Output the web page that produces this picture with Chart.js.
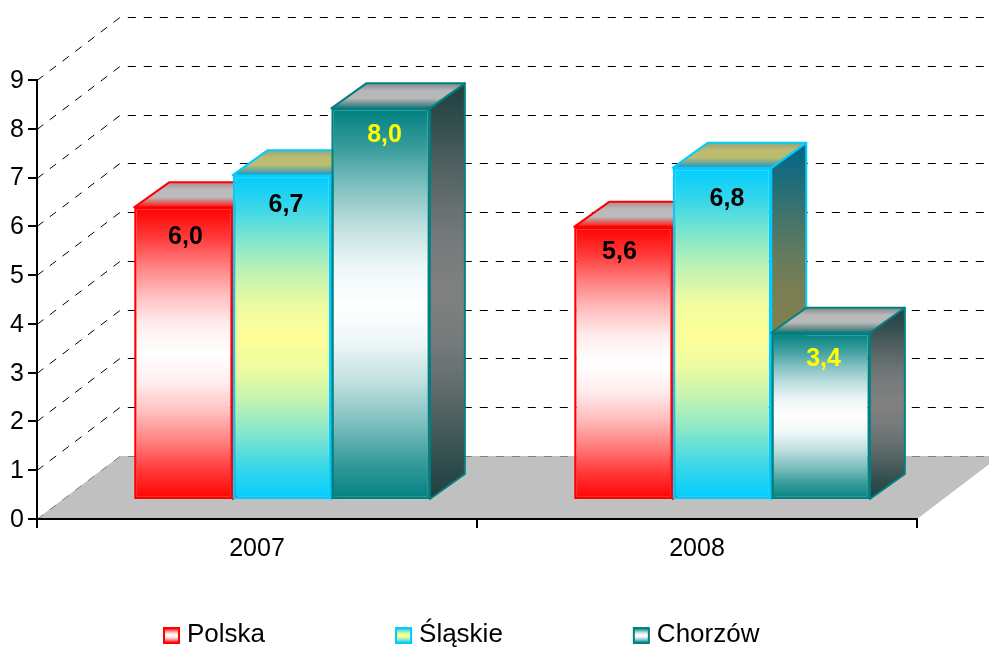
<!DOCTYPE html>
<html>
<head>
<meta charset="utf-8">
<style>
  html, body { margin: 0; background: #fff; }
  canvas { display: block; }
</style>
<script src="https://cdn.jsdelivr.net/npm/chart.js@4"></script>
</head>
<body>
<canvas id="chart" width="989" height="648"></canvas>
<script>
// Data
const categories = ["2007", "2008"];
const seriesNames = ["Polska", "Śląskie", "Chorzów"];
const polska = [6.0, 5.6];
const slaskie = [6.66, 6.81];
const chorzow = [8.03, 3.43];
const yTicks = [0, 1, 2, 3, 4, 5, 6, 7, 8, 9];

// Colours per series: bar edge, bar middle, then the darker side and top faces
const edgeColors = ["#ff0000", "#00ccff", "#008080"];
const midColors = ["#ffffff", "#ffff99", "#ffffff"];
const sideEdge = ["#800000", "#006688", "#1f4040"];
const sideMid = ["#808080", "#808050", "#808080"];
const topEdge = ["#ff1010", "#1f94c0", "#2a7070"];
const topBack = ["#b08a8a", "#98a080", "#808888"];
const topMid = ["#bbbbbb", "#bcbc70", "#b8b8b8"];
const labelColors = ["#000000", "#000000", "#ffff00"];

// Value labels sit a little off the bar centre, per series and category
const labelDx = [[2, -4], [4, 5], [4, 3]];
const labelDy = [[30, 25], [30, 31], [27, 26]];

// Pseudo 3D geometry
const WALL_X = 83, WALL_Y = 63;   // axis plane to back wall
const BAR_X = 25, BAR_Y = 19;     // axis plane to front of bars
const DEPTH_X = 35, DEPTH_Y = 25; // depth of a bar
const FONT = "Liberation Sans, Arial, sans-serif";

// How far the fill has moved from edge to middle colour along half a bar
const curve = [[0, 0], [0.1, 0.22], [0.2, 0.5], [0.3, 0.75], [0.4, 0.93], [0.5, 1]];

Chart.defaults.font.family = FONT;
Chart.defaults.font.size = 25;
Chart.defaults.color = "#000";

function mix(a, b, m) {
  let out = "#";
  for (let k = 1; k < 7; k += 2) {
    let va = parseInt(a.substr(k, 2), 16), vb = parseInt(b.substr(k, 2), 16);
    out += Math.round(va + (vb - va) * m).toString(16).padStart(2, "0");
  }
  return out;
}

function vertical(ctx, y0, y1, stops) {
  let g = ctx.createLinearGradient(0, y0, 0, y1);
  stops.forEach(s => g.addColorStop(s[0], s[1]));
  return g;
}

// Edge - middle - edge gradient, mirrored around the middle of the bar
function barGradient(ctx, y0, y1, edge, mid) {
  let stops = [];
  curve.forEach(c => {
    stops.push([c[0], mix(edge, mid, c[1])]);
    stops.push([1 - c[0], mix(edge, mid, c[1])]);
  });
  return vertical(ctx, y0, y1, stops);
}

function barFill(i) {
  return (c) => {
    if (!c.chart.chartArea || c.raw === undefined) return edgeColors[i];
    let y = c.chart.scales.y;
    return barGradient(c.chart.ctx, y.getPixelForValue(c.raw), y.getPixelForValue(0), edgeColors[i], midColors[i]);
  };
}

// Floor and dashed grid on the walls
const wallsPlugin = {
  id: "walls",
  beforeDraw(chart) {
    let ctx = chart.ctx, area = chart.chartArea, y = chart.scales.y;
    let y0 = y.getPixelForValue(0);
    ctx.save();
    ctx.fillStyle = "#c0c0c0";
    ctx.beginPath();
    ctx.moveTo(area.left, y0);
    ctx.lineTo(area.right, y0);
    ctx.lineTo(area.right + WALL_X, y0 - WALL_Y);
    ctx.lineTo(area.left + WALL_X, y0 - WALL_Y);
    ctx.closePath();
    ctx.fill();

    ctx.lineWidth = 1;
    ctx.setLineDash([8, 8]);
    yTicks.forEach(t => {
      let py = Math.round(y.getPixelForValue(t)) + 0.5;
      ctx.strokeStyle = t === 0 ? "#808080" : "#000";
      ctx.beginPath();
      ctx.moveTo(area.left, py);
      ctx.lineTo(area.left + WALL_X, py - WALL_Y);
      ctx.lineTo(chart.width, py - WALL_Y);
      ctx.stroke();
    });
    ctx.restore();
  }
};

function drawFaces(ctx, meta, i) {
  meta.data.forEach(bar => {
    let p = bar.getProps(["x", "y", "base", "width"], true);
    let l = p.x - p.width / 2, r = p.x + p.width / 2;
    ctx.lineWidth = 2;
    ctx.lineJoin = "round";
    ctx.strokeStyle = edgeColors[i];

    // side
    ctx.fillStyle = barGradient(ctx, p.y - DEPTH_Y, p.base, sideEdge[i], sideMid[i]);
    ctx.beginPath();
    ctx.moveTo(r, p.y);
    ctx.lineTo(r + DEPTH_X, p.y - DEPTH_Y);
    ctx.lineTo(r + DEPTH_X, p.base - DEPTH_Y);
    ctx.lineTo(r, p.base);
    ctx.closePath();
    ctx.fill();
    ctx.stroke();

    // top
    ctx.fillStyle = vertical(ctx, p.y - DEPTH_Y, p.y,
      [[0, topBack[i]], [0.3, topMid[i]], [0.6, topMid[i]], [1, topEdge[i]]]);
    ctx.beginPath();
    ctx.moveTo(l, p.y);
    ctx.lineTo(l + DEPTH_X, p.y - DEPTH_Y);
    ctx.lineTo(r + DEPTH_X, p.y - DEPTH_Y);
    ctx.lineTo(r, p.y);
    ctx.closePath();
    ctx.fill();
    ctx.stroke();
  });
}

// Chart.js paints the first dataset last, here the later series must go on top,
// so the bars are painted from this hook, shifted off the axis plane
const barsPlugin = {
  id: "bars3d",
  beforeDatasetsDraw(chart) {
    let ctx = chart.ctx;
    chart.data.datasets.forEach((ds, i) => {
      let meta = chart.getDatasetMeta(i);
      ctx.save();
      ctx.translate(BAR_X, -BAR_Y);
      drawFaces(ctx, meta, i);
      meta.controller.draw();
      ctx.restore();
    });

    ctx.save();
    ctx.font = "bold 25px " + FONT;
    ctx.textAlign = "center";
    ctx.textBaseline = "middle";
    chart.data.datasets.forEach((ds, i) => {
      chart.getDatasetMeta(i).data.forEach((bar, j) => {
        let p = bar.getProps(["x", "y"], true);
        ctx.fillStyle = labelColors[i];
        ctx.fillText(ds.data[j].toFixed(1).replace(".", ","),
          p.x + BAR_X + labelDx[i][j], p.y - BAR_Y + labelDy[i][j]);
      });
    });
    ctx.restore();
    return false;
  }
};

// Legend keeps an even gap after each item
const legendPlugin = {
  id: "bottomLegend",
  afterDraw(chart) {
    let ctx = chart.ctx, x = 164, y = 628, box = 15;
    ctx.save();
    ctx.font = "26px " + FONT;
    ctx.textBaseline = "middle";
    chart.data.datasets.forEach((ds, i) => {
      ctx.fillStyle = barGradient(ctx, y, y + box, edgeColors[i], midColors[i]);
      ctx.strokeStyle = edgeColors[i];
      ctx.lineWidth = 2;
      ctx.fillRect(x, y, box, box);
      ctx.strokeRect(x, y, box, box);
      ctx.fillStyle = "#000";
      ctx.fillText(ds.label, x + 23, y + 7);
      x += 23 + ctx.measureText(ds.label).width + 131;
    });
    ctx.restore();
  }
};

const allSeries = [polska, slaskie, chorzow];

new Chart(document.getElementById("chart"), {
  type: "bar",
  data: {
    labels: categories,
    datasets: seriesNames.map((name, i) => ({
      label: name,
      data: allSeries[i],
      clip: false,
      backgroundColor: barFill(i),
      borderColor: edgeColors[i],
      borderWidth: 2.5,
      borderSkipped: false,
      categoryPercentage: 0.672,
      barPercentage: 1,
    })),
  },
  options: {
    responsive: false,
    animation: false,
    layout: { padding: { top: 80, right: 72, bottom: 69, left: 0 } },
    plugins: { legend: { display: false }, tooltip: { enabled: false } },
    scales: {
      x: {
        afterFit(scale) { scale.height = 60; },
        grid: { drawOnChartArea: false, color: "#000", lineWidth: 2, tickLength: 9 },
        border: { color: "#000", width: 2 },
        ticks: { padding: 6, maxRotation: 0 },
      },
      y: {
        min: 0,
        max: 9,
        afterFit(scale) { scale.width = 37; },
        afterBuildTicks(scale) { scale.ticks = yTicks.map(v => ({ value: v })); },
        grid: { drawOnChartArea: false, color: "#000", lineWidth: 2, tickLength: 9 },
        border: { color: "#000", width: 2 },
        ticks: { padding: 4, labelOffset: 1 },
      },
    },
  },
  plugins: [wallsPlugin, barsPlugin, legendPlugin],
});
</script>
</body>
</html>
